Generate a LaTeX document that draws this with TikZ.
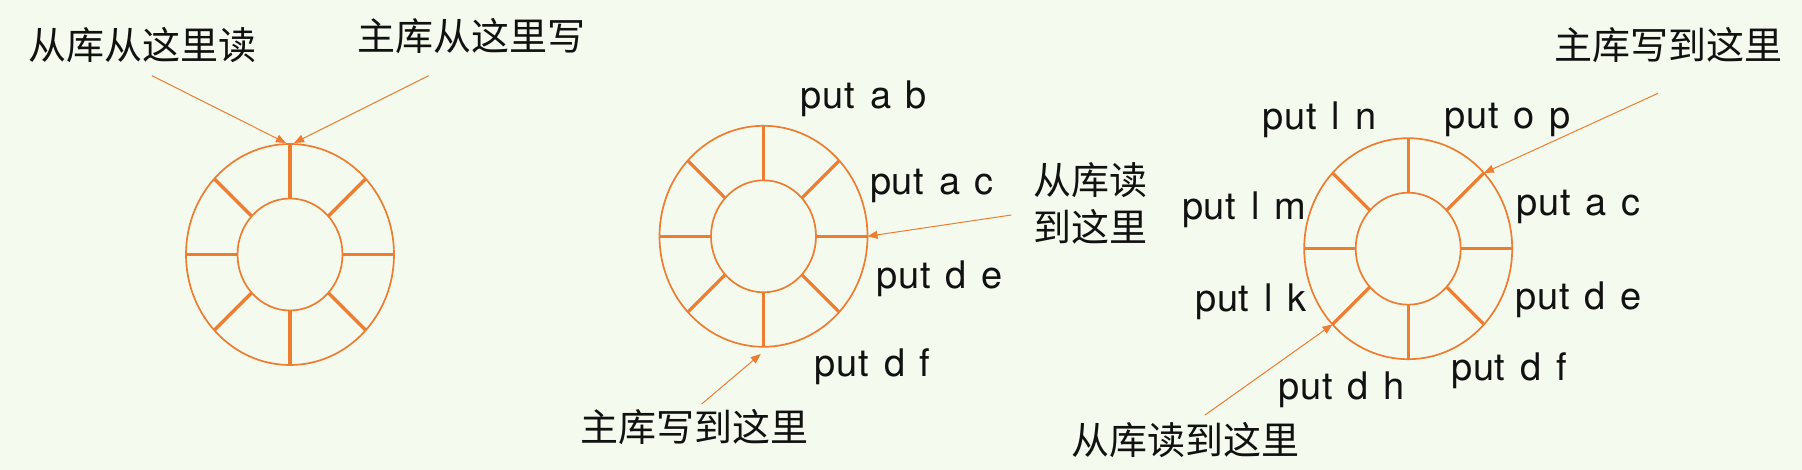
\documentclass[tikz,border=0pt]{standalone}
\usepackage{fontspec}
\setmainfont{TeX Gyre Heros}[LetterSpace=2,WordSpace=1.3]
\newfontfamily\cjk{Noto Sans CJK SC}
\usetikzlibrary{shapes.geometric,arrows.meta}
\definecolor{bg}{HTML}{F4FAEE}
\definecolor{org}{HTML}{ED7D31}
\definecolor{ink}{HTML}{111111}
\begin{document}
\begin{tikzpicture}[x=1pt,y=-1pt,
  outerring/.style={ellipse,draw=org,line width=1.7pt,minimum width=208pt,minimum height=221pt,inner sep=0pt,outer sep=0pt},
  innerring/.style={ellipse,draw=org,line width=1.7pt,minimum width=105pt,minimum height=112pt,inner sep=0pt,outer sep=0pt},
  spoke/.style={draw=org,line width=3.2pt},
  arr/.style={draw=org,line width=1pt,-{Triangle[length=10pt,width=8pt]}},
  lat/.style={text=ink,inner sep=0pt,font=\fontsize{38}{46}\selectfont},
  cn/.style={text=ink,inner sep=0pt,font=\cjk\fontsize{38}{47}\selectfont,align=left},
]
\fill[bg] (0,0) rectangle (1802,470);
\useasboundingbox (0,0) rectangle (1802,470);

% ---------- ring 1 ----------
\node[outerring] (o1) at (290,254.5) {};
\node[innerring] (i1) at (290,254.5) {};
\foreach \a in {0,45,...,315} \draw[spoke] (i1.\a) -- (o1.\a);
\node[cn] (l1a) at (142.2,45) {从库从这里读};
\node[cn] (l1b) at (471.5,35.8) {主库从这里写};
\coordinate (s1a) at (151.9,75.7);
\coordinate (s1b) at (428.6,75.7);
\coordinate (e1a) at (286,143);
\coordinate (e1b) at (294,143);
\draw[arr] (s1a) -- (e1a);
\draw[arr] (s1b) -- (e1b);

% ---------- ring 2 ----------
\node[outerring] (o2) at (763.5,236.3) {};
\node[innerring] (i2) at (763.5,236.3) {};
\foreach \a in {0,45,...,315} \draw[spoke] (i2.\a) -- (o2.\a);
\node[lat] (p2ab) at (864,98.5) {put a b};
\node[lat] (p2ac) at (932,186) {put a c};
\node[lat] (p2de) at (939.7,278.3) {put d e};
\node[lat] (p2df) at (872.7,366.7) {put d f};
\node[cn] (l2r) at (1090.5,203) {从库读\\到这里};
\node[cn] (l2w) at (694.5,427.5) {主库写到这里};
\coordinate (s2r) at (1011.4,215);
\coordinate (s2w) at (701.7,404);
\coordinate (e2w) at (760.7,354);
\draw[arr] (s2r) -- (o2.east);
\draw[arr] (s2w) -- (e2w);

% ---------- ring 3 ----------
\node[outerring] (o3) at (1408.2,248.7) {};
\node[innerring] (i3) at (1408.2,248.7) {};
\foreach \a in {0,45,...,315} \draw[spoke] (i3.\a) -- (o3.\a);
\node[lat] (p3ln) at (1319.6,120) {put l n};
\node[lat] (p3op) at (1507.7,120) {put o p};
\node[lat] (p3lm) at (1244,210) {put l m};
\node[lat] (p3ac) at (1578.5,206.7) {put a c};
\node[lat] (p3lk) at (1250.8,301.7) {put l k};
\node[lat] (p3de) at (1578.9,300) {put d e};
\node[lat] (p3dh) at (1341.3,390) {put d h};
\node[lat] (p3df) at (1508.9,370.8) {put d f};
\node[cn] (l3w) at (1668.8,45) {主库写到这里};
\node[cn] (l3r) at (1185.8,440) {从库读到这里};
\coordinate (s3w) at (1658,93.3);
\coordinate (s3r) at (1205,415);
\draw[arr] (s3w) -- (o3.45);
\draw[arr] (s3r) -- (o3.225);
\end{tikzpicture}
\end{document}
